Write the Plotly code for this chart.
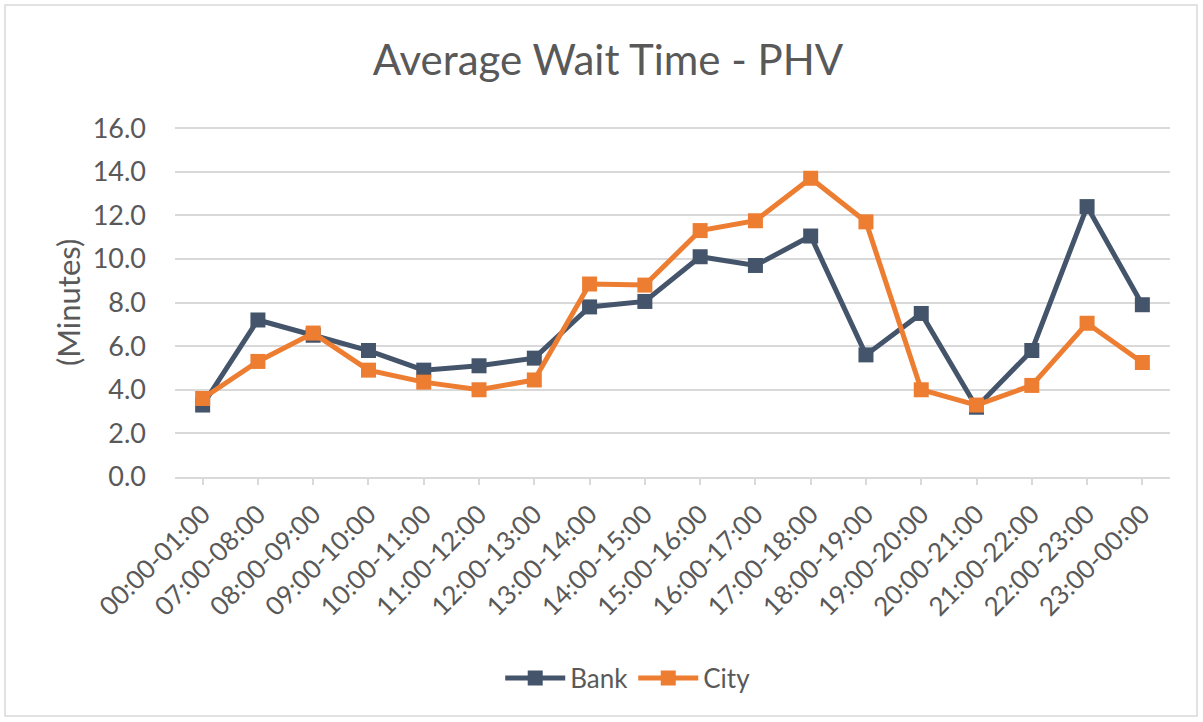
import plotly.graph_objects as go

hours = ["00:00-01:00", "07:00-08:00", "08:00-09:00", "09:00-10:00", "10:00-11:00",
         "11:00-12:00", "12:00-13:00", "13:00-14:00", "14:00-15:00", "15:00-16:00",
         "16:00-17:00", "17:00-18:00", "18:00-19:00", "19:00-20:00", "20:00-21:00",
         "21:00-22:00", "22:00-23:00", "23:00-00:00"]
bank = [3.3, 7.2, 6.5, 5.8, 4.9, 5.1, 5.45, 7.8, 8.05, 10.1, 9.7, 11.05, 5.6, 7.5, 3.2, 5.8, 12.4, 7.9]
city = [3.6, 5.3, 6.6, 4.9, 4.35, 4.0, 4.45, 8.85, 8.8, 11.3, 11.75, 13.7, 11.7, 4.0, 3.3, 4.2, 7.05, 5.25]
y_ticks = [0, 2, 4, 6, 8, 10, 12, 14, 16]

W, H = 1203, 722
L, R, T, B = 175, 33, 127, 245
TEXT = "#595959"
GRID = "#D9D9D9"
FONT = "Lato, 'Open Sans', sans-serif"

fig = go.Figure()
for name, vals, col in [("Bank", bank, "#44546A"), ("City", city, "#ED7D31")]:
    fig.add_trace(go.Scatter(
        x=hours, y=vals, name=name, mode="lines+markers",
        line=dict(color=col, width=5),
        marker=dict(symbol="square", size=15, color=col),
    ))

pw, ph = W - L - R, H - T - B
# outer chart border (Excel-style chart area)
fig.add_shape(type="rect", xref="paper", yref="paper",
              x0=(5 - L) / pw, x1=(W - 6 - L) / pw,
              y0=-(H - 6 - T - ph) / ph, y1=1 + (T - 5) / ph,
              line=dict(color=GRID, width=1.5), layer="below")
fig.add_annotation(text="(Minutes)", textangle=-90, showarrow=False,
                   xref="paper", yref="paper", x=(68 - L) / pw, y=(H - B - 303) / ph,
                   xanchor="center", yanchor="middle",
                   font=dict(size=31, color=TEXT))

fig.update_layout(
    width=W, height=H,
    margin=dict(l=L, r=R, t=T, b=B),
    paper_bgcolor="white", plot_bgcolor="white",
    font=dict(family=FONT, color=TEXT, size=26),
    title=dict(text="Average Wait Time - PHV", x=(608 - L) / pw, xref="paper", xanchor="center",
               y=1 - 60 / H, yanchor="middle", font=dict(size=42, color=TEXT)),
    showlegend=True,
    legend=dict(orientation="h", x=0.455, xref="paper", xanchor="center",
                y=-(678 - T - ph) / ph, yanchor="middle",
                font=dict(size=26, color=TEXT), itemwidth=60),
    hovermode=False,
)
fig.update_xaxes(
    type="category", range=[-0.5, len(hours) - 0.5], automargin=False,
    tickangle=-45, showgrid=False,
    showline=True, linecolor=GRID, linewidth=1.5,
    ticks="outside", ticklen=6, tickcolor=GRID, tickwidth=1.5,
    ticklabelstandoff=4, tickfont=dict(size=26, color=TEXT),
)
fig.update_yaxes(
    range=[0, 16.05], tickvals=y_ticks, ticktext=[f"{v:.1f}" for v in y_ticks],
    automargin=False,
    showgrid=True, gridcolor=GRID, gridwidth=1.5, zeroline=False,
    showline=False, ticks="", ticklabelstandoff=28,
    tickfont=dict(size=27, color=TEXT),
)

fig.write_html("out.html", config={"displayModeBar": False},
               post_script="document.body.style.margin='0';")
